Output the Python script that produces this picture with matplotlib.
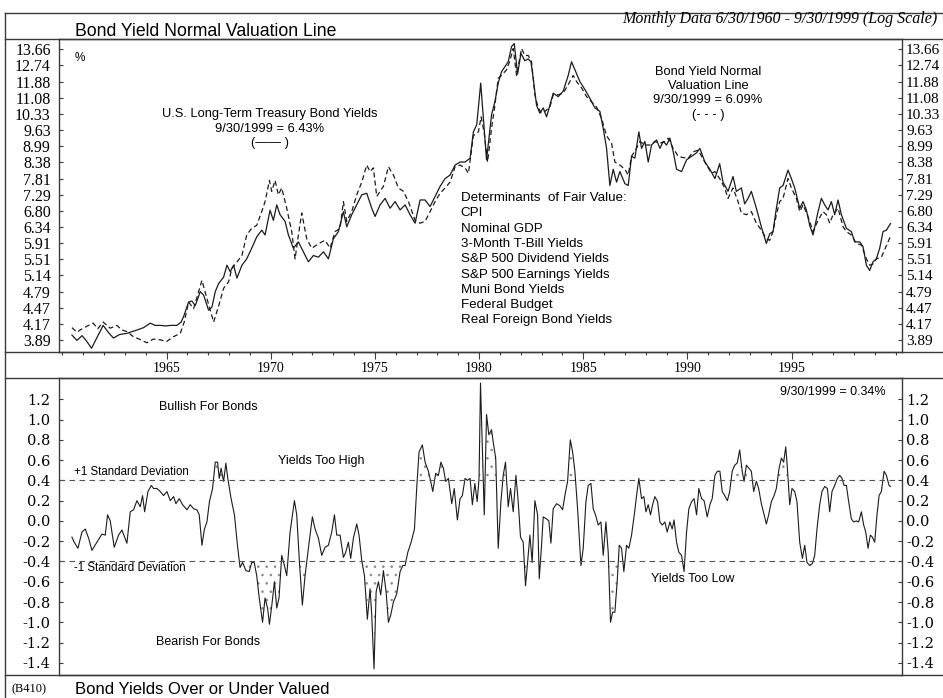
import numpy as np
import matplotlib
matplotlib.use("Agg")
import matplotlib.pyplot as plt
from matplotlib.lines import Line2D
from matplotlib.ticker import FixedLocator, FixedFormatter, NullLocator, MultipleLocator

plt.rcParams['font.family'] = ['Liberation Serif', 'DejaVu Serif']
plt.rcParams['hatch.linewidth'] = 0.6
SANS = ['Liberation Sans', 'DejaVu Sans']

# U.S. long-term Treasury bond yield (%)
bond_years = [1960.46, 1960.70, 1960.95, 1961.20, 1961.40, 1961.65, 1961.96, 1962.20, 1962.45, 1962.75,
              1963.10, 1963.35, 1963.60, 1963.90, 1964.22, 1964.45, 1964.70, 1964.95, 1965.20, 1965.50,
              1965.70, 1965.82, 1966.06, 1966.22, 1966.38, 1966.62, 1966.78, 1967.02, 1967.18, 1967.34,
              1967.50, 1967.74, 1967.90, 1968.06, 1968.22, 1968.38, 1968.62, 1968.85, 1969.09, 1969.33,
              1969.57, 1969.73, 1969.97, 1970.13, 1970.29, 1970.45, 1970.69, 1970.85, 1971.09, 1971.33,
              1971.57, 1971.81, 1972.05, 1972.29, 1972.53, 1972.77, 1973.01, 1973.25, 1973.49, 1973.65,
              1973.89, 1974.13, 1974.37, 1974.61, 1974.85, 1975.01, 1975.25, 1975.49, 1975.73, 1975.97,
              1976.21, 1976.45, 1976.69, 1976.93, 1977.17, 1977.41, 1977.65, 1977.89, 1978.13, 1978.37,
              1978.61, 1978.85, 1979.09, 1979.33, 1979.57, 1979.73, 1979.89, 1980.08, 1980.36, 1980.60,
              1980.76, 1980.92, 1981.08, 1981.24, 1981.40, 1981.56, 1981.69, 1981.85, 1982.01, 1982.20,
              1982.36, 1982.49, 1982.60, 1982.76, 1982.92, 1983.08, 1983.24, 1983.40, 1983.56, 1983.80,
              1984.04, 1984.28, 1984.44, 1984.60, 1984.84, 1985.08, 1985.32, 1985.56, 1985.80, 1985.96,
              1986.12, 1986.28, 1986.44, 1986.60, 1986.76, 1987.00, 1987.16, 1987.32, 1987.48, 1987.67,
              1987.80, 1987.96, 1988.12, 1988.28, 1988.52, 1988.68, 1988.84, 1989.00, 1989.16, 1989.32,
              1989.48, 1989.72, 1989.96, 1990.20, 1990.44, 1990.60, 1990.84, 1991.08, 1991.32, 1991.55,
              1991.71, 1991.95, 1992.19, 1992.35, 1992.59, 1992.75, 1992.91, 1993.07, 1993.31, 1993.55,
              1993.79, 1993.95, 1994.11, 1994.27, 1994.43, 1994.59, 1994.83, 1994.99, 1995.15, 1995.39,
              1995.55, 1995.71, 1995.87, 1996.03, 1996.27, 1996.43, 1996.59, 1996.75, 1996.91, 1997.07,
              1997.23, 1997.39, 1997.63, 1997.87, 1998.03, 1998.27, 1998.43, 1998.59, 1998.75, 1998.91,
              1999.07, 1999.23, 1999.39, 1999.55, 1999.75]
bond_yield = [3.97, 3.88, 3.96, 3.85, 3.75, 3.92, 4.14, 4.02, 3.92, 3.98,
              4.00, 4.03, 4.06, 4.10, 4.18, 4.14, 4.14, 4.13, 4.14, 4.14,
              4.20, 4.30, 4.58, 4.60, 4.51, 4.79, 4.72, 4.42, 4.48, 4.79,
              4.96, 5.10, 5.37, 5.22, 5.37, 5.08, 5.37, 5.52, 5.78, 6.07,
              6.25, 6.12, 6.81, 6.52, 6.97, 6.68, 6.49, 6.12, 5.78, 5.94,
              5.69, 5.45, 5.60, 5.56, 5.69, 5.52, 6.02, 6.21, 6.77, 6.34,
              6.68, 6.97, 7.28, 7.33, 6.87, 6.63, 6.97, 7.17, 6.87, 7.07,
              6.82, 6.97, 6.68, 6.44, 7.12, 7.12, 6.92, 7.23, 7.55, 7.81,
              7.93, 8.28, 8.39, 8.39, 8.53, 9.56, 9.86, 11.80, 8.47, 10.29,
              10.88, 11.80, 12.40, 12.67, 12.94, 13.82, 14.00, 12.27, 13.42, 13.00,
              13.10, 12.94, 12.05, 10.72, 10.36, 10.60, 10.20, 10.72, 11.30, 11.13,
              11.40, 12.20, 12.94, 12.50, 11.88, 11.48, 11.05, 10.60, 10.44, 9.70,
              8.90, 7.58, 8.13, 7.69, 8.05, 7.64, 7.58, 8.60, 8.53, 9.56,
              8.90, 9.17, 8.39, 9.03, 9.23, 8.90, 9.17, 9.03, 9.30, 8.77,
              8.13, 8.05, 8.47, 8.60, 8.73, 8.90, 8.39, 8.13, 7.81, 8.33,
              7.69, 7.39, 7.88, 7.39, 7.50, 7.00, 7.17, 7.39, 6.87, 6.34,
              5.90, 6.15, 6.21, 6.87, 7.50, 7.58, 8.10, 7.81, 7.50, 6.87,
              7.07, 6.82, 6.38, 6.12, 6.77, 7.17, 6.97, 6.82, 7.07, 6.68,
              7.12, 6.68, 6.30, 6.21, 5.94, 5.94, 5.82, 5.37, 5.25, 5.45,
              5.52, 5.78, 6.21, 6.25, 6.43]

# Bond yield normal valuation line (%)
fair_years = [1960.46, 1960.70, 1960.86, 1961.15, 1961.48, 1961.70, 1961.96, 1962.30, 1962.62, 1962.85,
              1963.10, 1963.42, 1963.70, 1964.06, 1964.35, 1964.70, 1965.00, 1965.32, 1965.66, 1965.85,
              1966.06, 1966.30, 1966.70, 1966.94, 1967.26, 1967.50, 1967.74, 1967.98, 1968.14, 1968.38,
              1968.62, 1968.85, 1969.09, 1969.33, 1969.57, 1969.73, 1969.94, 1970.05, 1970.21, 1970.37,
              1970.53, 1970.77, 1971.01, 1971.17, 1971.33, 1971.49, 1971.73, 1971.97, 1972.21, 1972.45,
              1972.61, 1972.85, 1973.09, 1973.33, 1973.49, 1973.65, 1973.89, 1974.13, 1974.37, 1974.61,
              1974.77, 1974.93, 1975.09, 1975.25, 1975.41, 1975.65, 1975.89, 1976.13, 1976.37, 1976.61,
              1976.93, 1977.17, 1977.41, 1977.65, 1977.89, 1978.13, 1978.37, 1978.61, 1978.85, 1979.09,
              1979.33, 1979.49, 1979.73, 1979.97, 1980.10, 1980.25, 1980.41, 1980.60, 1980.76, 1980.92,
              1981.08, 1981.32, 1981.48, 1981.64, 1981.80, 1982.04, 1982.20, 1982.36, 1982.52, 1982.68,
              1982.84, 1983.00, 1983.16, 1983.40, 1983.56, 1983.80, 1984.04, 1984.28, 1984.52, 1984.68,
              1984.92, 1985.16, 1985.40, 1985.64, 1985.88, 1986.12, 1986.36, 1986.52, 1986.76, 1987.00,
              1987.16, 1987.32, 1987.56, 1987.72, 1987.96, 1988.20, 1988.44, 1988.68, 1988.92, 1989.08,
              1989.32, 1989.56, 1989.80, 1990.04, 1990.28, 1990.52, 1990.68, 1990.92, 1991.16, 1991.32,
              1991.55, 1991.79, 1991.95, 1992.19, 1992.43, 1992.59, 1992.83, 1993.07, 1993.31, 1993.55,
              1993.79, 1993.95, 1994.11, 1994.27, 1994.43, 1994.59, 1994.83, 1994.99, 1995.23, 1995.39,
              1995.55, 1995.79, 1996.03, 1996.27, 1996.51, 1996.67, 1996.83, 1996.99, 1997.23, 1997.47,
              1997.63, 1997.87, 1998.11, 1998.35, 1998.59, 1998.75, 1998.91, 1999.07, 1999.31, 1999.50,
              1999.75]
fair_yield = [4.10, 4.02, 4.06, 4.12, 4.18, 4.08, 4.20, 4.09, 4.14, 4.06,
              4.03, 3.94, 3.90, 3.84, 3.90, 3.89, 3.86, 3.94, 4.00, 4.20,
              4.58, 4.45, 5.03, 4.65, 4.20, 4.50, 4.86, 5.00, 5.30, 5.45,
              5.60, 6.12, 6.30, 6.38, 6.77, 7.07, 7.75, 7.39, 7.75, 7.28,
              7.50, 6.87, 6.21, 5.52, 6.12, 6.73, 6.02, 5.78, 5.86, 5.94,
              5.98, 5.78, 6.21, 6.30, 7.07, 6.49, 6.77, 7.28, 7.69, 8.28,
              8.05, 8.18, 7.23, 7.39, 7.55, 8.22, 7.93, 7.50, 7.39, 7.07,
              6.52, 6.44, 6.49, 6.77, 7.07, 7.33, 7.50, 7.69, 8.22, 8.28,
              8.18, 7.99, 9.40, 9.56, 10.20, 9.50, 8.39, 9.70, 10.72, 12.05,
              12.20, 12.50, 13.00, 13.70, 12.20, 13.70, 13.30, 13.30, 12.94, 11.22,
              10.60, 10.36, 10.44, 10.64, 11.22, 11.22, 11.30, 11.72, 12.20, 11.88,
              11.56, 11.13, 10.88, 10.64, 10.13, 9.40, 9.10, 8.39, 8.28, 8.13,
              7.93, 8.60, 8.90, 9.17, 9.03, 9.03, 9.17, 9.10, 9.17, 9.30,
              8.90, 8.60, 8.55, 8.53, 8.77, 8.83, 8.60, 8.28, 7.99, 8.05,
              7.81, 7.50, 7.17, 7.50, 7.07, 6.73, 6.68, 6.77, 6.44, 6.25,
              6.02, 5.98, 6.21, 6.68, 7.07, 7.17, 7.81, 7.50, 7.17, 6.77,
              6.97, 6.63, 6.21, 6.52, 6.77, 6.68, 6.44, 6.68, 6.87, 6.34,
              6.21, 6.12, 5.90, 5.86, 5.52, 5.37, 5.40, 5.52, 5.56, 5.78,
              6.09]

# Bond yields over (+) or under (-) valued, percentage points
gap_years = [1960.46, 1960.57, 1960.75, 1960.94, 1961.10, 1961.26, 1961.42, 1961.66, 1961.90, 1962.06,
             1962.17, 1962.30, 1962.49, 1962.70, 1962.86, 1963.10, 1963.26, 1963.42, 1963.58, 1963.74,
             1963.85, 1963.95, 1964.11, 1964.27, 1964.38, 1964.54, 1964.70, 1964.86, 1965.02, 1965.18,
             1965.34, 1965.45, 1965.61, 1965.77, 1965.98, 1966.14, 1966.30, 1966.46, 1966.57, 1966.70,
             1966.82, 1966.94, 1967.06, 1967.21, 1967.34, 1967.45, 1967.53, 1967.62, 1967.74, 1967.85,
             1967.94, 1968.10, 1968.26, 1968.42, 1968.53, 1968.65, 1968.81, 1968.97, 1969.09, 1969.21,
             1969.33, 1969.45, 1969.61, 1969.73, 1969.85, 1969.94, 1970.05, 1970.18, 1970.29, 1970.40,
             1970.53, 1970.66, 1970.77, 1970.93, 1971.14, 1971.25, 1971.38, 1971.52, 1971.65, 1971.81,
             1972.00, 1972.13, 1972.29, 1972.45, 1972.61, 1972.77, 1972.93, 1973.06, 1973.17, 1973.33,
             1973.49, 1973.60, 1973.73, 1973.84, 1973.97, 1974.13, 1974.24, 1974.37, 1974.50, 1974.64,
             1974.77, 1974.85, 1974.96, 1975.06, 1975.17, 1975.28, 1975.41, 1975.54, 1975.65, 1975.76,
             1975.89, 1976.05, 1976.21, 1976.34, 1976.45, 1976.58, 1976.74, 1976.90, 1977.01, 1977.12,
             1977.28, 1977.41, 1977.57, 1977.68, 1977.78, 1977.92, 1978.05, 1978.17, 1978.29, 1978.40,
             1978.53, 1978.69, 1978.81, 1978.96, 1979.09, 1979.20, 1979.33, 1979.44, 1979.57, 1979.68,
             1979.80, 1979.91, 1980.00, 1980.07, 1980.25, 1980.36, 1980.47, 1980.60, 1980.68, 1980.80,
             1980.92, 1981.05, 1981.16, 1981.27, 1981.40, 1981.51, 1981.64, 1981.77, 1981.88, 1981.99,
             1982.12, 1982.23, 1982.33, 1982.44, 1982.55, 1982.68, 1982.81, 1982.89, 1983.00, 1983.08,
             1983.24, 1983.35, 1983.45, 1983.56, 1983.72, 1983.88, 1984.01, 1984.12, 1984.25, 1984.38,
             1984.49, 1984.60, 1984.73, 1984.89, 1985.00, 1985.13, 1985.24, 1985.37, 1985.48, 1985.59,
             1985.72, 1985.85, 1985.96, 1986.09, 1986.20, 1986.31, 1986.41, 1986.52, 1986.63, 1986.73,
             1986.84, 1986.95, 1987.08, 1987.19, 1987.32, 1987.45, 1987.56, 1987.67, 1987.80, 1987.91,
             1988.01, 1988.12, 1988.23, 1988.33, 1988.44, 1988.57, 1988.68, 1988.79, 1988.92, 1989.03,
             1989.16, 1989.27, 1989.36, 1989.48, 1989.59, 1989.72, 1989.84, 1989.96, 1990.07, 1990.20,
             1990.32, 1990.44, 1990.55, 1990.68, 1990.80, 1990.95, 1991.08, 1991.19, 1991.32, 1991.44,
             1991.56, 1991.67, 1991.79, 1991.92, 1992.03, 1992.15, 1992.27, 1992.39, 1992.51, 1992.63,
             1992.72, 1992.83, 1992.95, 1993.07, 1993.18, 1993.31, 1993.42, 1993.55, 1993.68, 1993.79,
             1993.90, 1994.03, 1994.16, 1994.27, 1994.40, 1994.51, 1994.62, 1994.72, 1994.80, 1994.91,
             1995.02, 1995.15, 1995.26, 1995.39, 1995.52, 1995.63, 1995.74, 1995.87, 1996.00, 1996.11,
             1996.22, 1996.35, 1996.46, 1996.59, 1996.72, 1996.83, 1996.94, 1997.07, 1997.20, 1997.31,
             1997.42, 1997.52, 1997.63, 1997.74, 1997.87, 1997.98, 1998.11, 1998.22, 1998.35, 1998.46,
             1998.56, 1998.67, 1998.78, 1998.88, 1998.99, 1999.10, 1999.20, 1999.31, 1999.44, 1999.55,
             1999.68, 1999.75]
gap_values = [-0.16, -0.21, -0.27, -0.11, -0.08, -0.17, -0.29, -0.21, -0.13, -0.14,
              0.06, 0.00, -0.26, -0.14, -0.09, -0.22, 0.09, 0.11, 0.20, 0.14,
              0.25, 0.09, 0.29, 0.35, 0.32, 0.32, 0.29, 0.25, 0.29, 0.20,
              0.24, 0.17, 0.22, 0.16, 0.11, 0.16, 0.12, 0.11, 0.06, -0.24,
              -0.08, -0.01, 0.19, 0.32, 0.58, 0.58, 0.42, 0.52, 0.39, 0.57,
              0.42, 0.22, 0.06, -0.27, -0.46, -0.41, -0.49, -0.50, -0.41, -0.41,
              -0.54, -0.76, -1.00, -0.76, -0.86, -1.02, -0.84, -0.60, -0.86, -0.76,
              -0.34, -0.44, -0.54, -0.11, 0.20, 0.06, -0.41, -0.83, -0.54, -0.27,
              0.04, -0.08, -0.17, -0.34, -0.26, -0.24, -0.11, 0.06, -0.14, -0.14,
              -0.36, -0.31, -0.21, -0.37, -0.17, -0.03, -0.14, -0.39, -0.54, -0.97,
              -0.67, -0.93, -1.46, -0.70, -0.60, -0.73, -0.49, -0.70, -1.00, -0.93,
              -0.80, -0.72, -0.50, -0.44, -0.44, -0.31, -0.21, -0.08, 0.33, 0.68,
              0.75, 0.58, 0.49, 0.39, 0.29, 0.47, 0.45, 0.58, 0.52, 0.39,
              0.42, 0.17, 0.32, 0.01, 0.22, 0.25, 0.42, 0.40, 0.42, 0.16,
              0.37, 0.19, 0.42, 1.36, 0.06, 1.05, 0.85, 0.90, 0.78, 0.62,
              -0.27, 0.19, 0.45, 0.58, 0.14, 0.32, 0.09, 0.45, 0.19, -0.16,
              -0.21, -0.64, -0.41, -0.14, -0.41, 0.20, 0.06, -0.57, -0.24, 0.04,
              0.02, 0.00, -0.22, 0.12, 0.17, 0.15, 0.11, 0.25, 0.39, 0.80,
              0.68, 0.49, 0.12, -0.44, -0.27, 0.19, 0.35, 0.37, 0.12, 0.06,
              -0.04, -0.01, -0.34, -0.01, -0.31, -1.00, -0.90, -0.90, -0.60, -0.24,
              -0.27, -0.50, -0.24, -0.27, -0.14, 0.06, 0.25, 0.42, 0.22, 0.24,
              0.09, 0.16, 0.06, 0.16, 0.24, 0.19, -0.01, -0.04, -0.01, -0.11,
              -0.01, -0.08, 0.01, -0.21, -0.31, -0.34, -0.50, -0.11, 0.12, 0.19,
              0.22, 0.06, 0.32, 0.22, 0.20, 0.04, 0.16, 0.22, 0.45, 0.49,
              0.49, 0.29, 0.25, 0.20, 0.29, 0.49, 0.55, 0.57, 0.70, 0.49,
              0.39, 0.55, 0.52, 0.49, 0.29, 0.39, 0.32, 0.17, 0.06, -0.03,
              0.06, 0.19, 0.25, 0.32, 0.52, 0.62, 0.58, 0.73, 0.52, 0.16,
              0.32, 0.29, 0.19, -0.21, -0.37, -0.24, -0.41, -0.44, -0.42, -0.34,
              -0.08, 0.16, 0.29, 0.34, 0.32, 0.09, 0.29, 0.35, 0.42, 0.45,
              0.42, 0.35, 0.35, 0.19, 0.02, -0.01, 0.00, -0.01, 0.09, -0.04,
              -0.11, -0.27, -0.14, -0.16, -0.21, 0.06, 0.25, 0.29, 0.49, 0.45,
              0.35, 0.34]

yield_ticks = [3.89, 4.17, 4.47, 4.79, 5.14, 5.51, 5.91, 6.34, 6.80, 7.29,
               7.81, 8.38, 8.99, 9.63, 10.33, 11.08, 11.88, 12.74, 13.66]
gap_ticks = [-1.4, -1.2, -1.0, -0.8, -0.6, -0.4, -0.2, 0.0, 0.2, 0.4, 0.6, 0.8, 1.0, 1.2]
gap_tick_labels = ['-1.4', '-1.2', '-1.0', '-0.8', '-0.6', '-0.4', '-0.2', '0.0',
                   '0.2', '0.4', '0.6', '0.8', '1.0', '1.2']
year_ticks = [1965, 1970, 1975, 1980, 1985, 1990, 1995]
sd_band = 0.40

W, H = 943, 698
INK = '#1c1c1c'
FRAME = '#3a3a3a'
YEAR_LIM = (1959.84, 2000.3)


def box(x0, y0, x1, y1):
    # pixel box measured from the top-left corner -> figure fraction
    return [x0 / W, 1 - y1 / H, (x1 - x0) / W, (y1 - y0) / H]


def style_frame(ax, visible=True):
    for sp in ax.spines.values():
        sp.set_visible(visible)
        sp.set_color(FRAME)
        sp.set_linewidth(1.0)


def y_ticks(ax, ticks, labels, side, size, family, pad):
    ax.yaxis.set_major_locator(FixedLocator(ticks))
    ax.yaxis.set_major_formatter(FixedFormatter(labels))
    ax.yaxis.set_minor_locator(NullLocator())
    left = side == 'left'
    ax.tick_params(axis='y', which='both', direction='in', length=3, width=0.8, color=FRAME,
                   left=left, labelleft=left, right=not left, labelright=not left,
                   labelsize=size, labelfontfamily=family, pad=pad)


fig = plt.figure(figsize=(W / 100, H / 100), dpi=100)
ax1 = fig.add_axes(box(59, 39, 902, 352))
ax2 = fig.add_axes(box(59, 378, 902, 675))

# outer frame and separators
for yy in (13, 39, 352, 378, 675):
    fig.add_artist(Line2D([5 / W, 1.0], [1 - yy / H] * 2, color=FRAME, lw=1.0))
fig.add_artist(Line2D([5 / W] * 2, [1 - 13 / H, 0.0], color=FRAME, lw=1.0))

# ---- top panel: yields on a log scale ----
ax1.plot(bond_years, bond_yield, color=INK, lw=0.9)
ax1.plot(fair_years, fair_yield, color=INK, lw=0.9, dashes=(4, 2.5))
ax1.set_yscale('log')
ax1.set_xlim(*YEAR_LIM)
ax1.set_ylim(3.69, 14.28)
yield_labels = [f"{v:.2f}" for v in yield_ticks]
y_ticks(ax1, yield_ticks, yield_labels, 'left', 11.5, 'Liberation Serif', 6)
ax1r = ax1.twinx()
ax1r.set_yscale('log')
ax1r.set_ylim(ax1.get_ylim())
y_ticks(ax1r, yield_ticks, yield_labels, 'right', 11, 'Liberation Serif', 3)

ax1.xaxis.set_major_locator(FixedLocator(year_ticks))
ax1.xaxis.set_minor_locator(MultipleLocator(1))
ax1.tick_params(axis='x', which='major', direction='out', length=4.8, width=0.8,
                labelsize=10, pad=2.5, color=FRAME)
ax1.tick_params(axis='x', which='minor', direction='out', length=2.4, width=0.8, color=FRAME)
style_frame(ax1)
style_frame(ax1r, visible=False)

ax1.text(0.019, 0.94, '%', transform=ax1.transAxes, family=SANS, fontsize=8.5, va='center')
for i, line in enumerate(['U.S. Long-Term Treasury Bond Yields', '9/30/1999 = 6.43%', '(\u2014\u2014 )']):
    ax1.text(0.250, 0.760 - i * 0.0465, line, transform=ax1.transAxes, family=SANS,
             fontsize=9.3, ha='center', va='center')
for i, line in enumerate(['Bond Yield Normal', 'Valuation Line', '9/30/1999 = 6.09%', '(- - - )']):
    ax1.text(0.770, 0.896 - i * 0.046, line, transform=ax1.transAxes, family=SANS,
             fontsize=9.3, ha='center', va='center')
determinants = ['Determinants  of Fair Value:', 'CPI', 'Nominal GDP', '3-Month T-Bill Yields',
                'S&P 500 Dividend Yields', 'S&P 500 Earnings Yields', 'Muni Bond Yields',
                'Federal Budget', 'Real Foreign Bond Yields']
for i, line in enumerate(determinants):
    ax1.text(0.4765, 0.492 - i * 0.0489, line, transform=ax1.transAxes, family=SANS,
             fontsize=9.6, ha='left', va='center')

# ---- bottom panel: over / under valuation ----
gy = np.array(gap_years)
gv = np.array(gap_values)
ax2.plot(gy, gv, color=INK, lw=0.8)
ax2.axhline(sd_band, color='#555555', lw=0.8, dashes=(5, 4))
ax2.axhline(-sd_band, color='#555555', lw=0.8, dashes=(5, 4))
ax2.fill_between(gy, gv, sd_band, where=gv > sd_band, interpolate=True,
                 facecolor='none', edgecolor='#8a8a8a', hatch='..', lw=0)
ax2.fill_between(gy, gv, -sd_band, where=gv < -sd_band, interpolate=True,
                 facecolor='none', edgecolor='#8a8a8a', hatch='..', lw=0)
ax2.set_xlim(*YEAR_LIM)
ax2.set_ylim(-1.52, 1.41)
ax2.set_xticks([])
y_ticks(ax2, gap_ticks, gap_tick_labels, 'left', 10.5, 'DejaVu Serif', 6)
ax2r = ax2.twinx()
ax2r.set_ylim(ax2.get_ylim())
y_ticks(ax2r, gap_ticks, gap_tick_labels, 'right', 10.5, 'DejaVu Serif', 3)
style_frame(ax2)
style_frame(ax2r, visible=False)

ax2.text(1967.0, 1.128, 'Bullish For Bonds', family=SANS, fontsize=9, ha='center', va='center')
ax2.text(1972.42, 0.59, 'Yields Too High', family=SANS, fontsize=9, ha='center', va='center')
ax2.text(1960.57, 0.481, '+1 Standard Deviation', family=SANS, fontsize=8.3, ha='left', va='center')
ax2.text(1960.57, -0.464, '-1 Standard Deviation', family=SANS, fontsize=8.3, ha='left', va='center')
ax2.text(1966.98, -1.19, 'Bearish For Bonds', family=SANS, fontsize=9, ha='center', va='center')
ax2.text(1990.26, -0.57, 'Yields Too Low', family=SANS, fontsize=9, ha='center', va='center')
ax2.text(1999.5, 1.272, '9/30/1999 = 0.34%', family=SANS, fontsize=9, ha='right', va='center')

# ---- header and footer ----
fig.text(75 / W, 1 - 31 / H, 'Bond Yield Normal Valuation Line', family=SANS, fontsize=12.7,
         ha='left', va='center')
fig.text(937 / W, 1 - 19 / H, 'Monthly Data 6/30/1960 - 9/30/1999 (Log Scale)',
         style='italic', fontsize=11.5, ha='right', va='center')
fig.text(12 / W, 1 - 689 / H, '(B410)', fontsize=9, ha='left', va='center')
fig.text(75 / W, 1 - 689 / H, 'Bond Yields Over or Under Valued', family=SANS, fontsize=12,
         ha='left', va='center')

fig.savefig('out.png', dpi=100)
